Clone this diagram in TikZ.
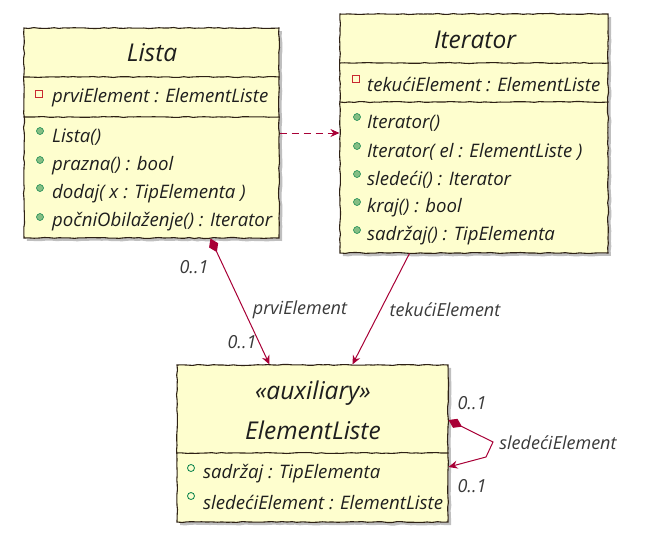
\documentclass[tikz,border=0pt]{standalone}
\usepackage{fontspec}
\setmainfont{Open Sans}
\usetikzlibrary{arrows.meta,calc,decorations.pathmorphing,shadows}
\definecolor{umlfill}{HTML}{FEFECE}
\definecolor{umlborder}{HTML}{2E2114}
\definecolor{umlarrow}{HTML}{A80036}
\definecolor{pubfill}{HTML}{84BE84}
\definecolor{publine}{HTML}{038048}
\definecolor{privline}{HTML}{C82930}
\definecolor{txt}{HTML}{1E1E1E}
\definecolor{lbl}{HTML}{3A3A3A}
\begin{document}
\pgfmathsetseed{7}
\begin{tikzpicture}[x=1pt,y=-1pt,
  wobble/.style={decorate,decoration={random steps,segment length=5pt,amplitude=0.5pt}},
  classbox/.style={draw=umlborder, fill=umlfill, line width=1.1pt, inner sep=0pt, wobble,
    drop shadow={shadow xshift=3pt, shadow yshift=-3pt, fill=black, opacity=0.25}},
  sepline/.style={draw=umlborder, line width=1.1pt, wobble},
  member/.style={anchor=west, inner sep=0pt, font=\fontsize{18.6}{20}\selectfont\itshape, text=txt},
  title/.style={inner sep=0pt, font=\fontsize{24.5}{27}\selectfont\itshape, text=txt},
  pubm/.style={circle, draw=publine, fill=pubfill, line width=0.5pt, minimum size=7pt, inner sep=0pt},
  pubf/.style={circle, draw=publine, fill=umlfill, line width=0.8pt, minimum size=7pt, inner sep=0pt},
  privf/.style={rectangle, draw=privline, line width=0.8pt, minimum size=6.5pt, inner sep=0pt},
  assoc/.style={draw=umlarrow, line width=1pt},
  lab/.style={inner sep=0pt, font=\fontsize{18}{20}\selectfont\itshape, text=lbl},
  tipA/.tip={Stealth[length=9pt,width=8pt,inset=3pt]},
  tipD/.tip={Diamond[length=15pt,width=10pt]}
]
\useasboundingbox (0,0) rectangle (657,539);

% ---------- Lista ----------
\node[classbox, minimum width=255pt, minimum height=210pt] (lista) at (151.5,133) {};
\node[title] (listaT) at (152,53) {Lista};
\draw[sepline] (lista.west |- 0,77) -- (lista.east |- 0,77);
\draw[sepline] (lista.west |- 0,117) -- (lista.east |- 0,117);
\node[privf] (li0) at (39,94) {};
\node[member] (l0) at (52,98) {prviElement : ElementListe};
\node[pubm] (li1) at (40,131) {};
\node[member] (l1) at (52,137) {Lista()};
\node[pubm] (li2) at (40,160) {};
\node[member] (l2) at (52,166) {prazna() : bool};
\node[pubm] (li3) at (40,188) {};
\node[member] (l3) at (52,194) {dodaj( x : TipElementa )};
\node[pubm] (li4) at (40,217) {};
\node[member] (l4) at (52,222) {počniObilaženje() : Iterator};

% ---------- Iterator ----------
\node[classbox, minimum width=268pt, minimum height=239pt] (iter) at (474,133.5) {};
\node[title] (iterT) at (475,40) {Iterator};
\draw[sepline] (iter.west |- 0,63) -- (iter.east |- 0,63);
\draw[sepline] (iter.west |- 0,102) -- (iter.east |- 0,102);
\node[privf] (ii0) at (356,79) {};
\node[member] (i0) at (367,84) {tekućiElement : ElementListe};
\node[pubm] (ii1) at (357,117) {};
\node[member] (i1) at (367,123) {Iterator()};
\node[pubm] (ii2) at (357,146) {};
\node[member] (i2) at (367,152) {Iterator( el : ElementListe )};
\node[pubm] (ii3) at (357,174) {};
\node[member] (i3) at (367,180) {sledeći() : Iterator};
\node[pubm] (ii4) at (357,202) {};
\node[member] (i4) at (367,208) {kraj() : bool};
\node[pubm] (ii5) at (357,230) {};
\node[member] (i5) at (367,236) {sadržaj() : TipElementa};

% ---------- ElementListe ----------
\node[classbox, minimum width=271pt, minimum height=157pt] (el) at (312.5,443.5) {};
\node[title] (elS) at (313,393) {«auxiliary»};
\node[title] (elT) at (313,430) {ElementListe};
\draw[sepline] (el.west |- 0,453) -- (el.east |- 0,453);
\node[pubf] (ei1) at (191,468) {};
\node[member] (e1) at (203,474) {sadržaj : TipElementa};
\node[pubf] (ei2) at (191,496) {};
\node[member] (e2) at (203,502) {sledećiElement : ElementListe};

% ---------- connectors ----------
\coordinate (dy) at (0,133);
\draw[assoc, dashed, dash pattern=on 7pt off 5pt, -tipA] (lista.east |- dy) -- (iter.west |- dy);

\draw[assoc, tipD-tipA] ($(lista.south west)+(187,0)$) -- ($(el.north west)+(93,0)$);
\node[lab] (c1a) at (194,267) {0..1};
\node[lab] (c1n) at (300,310) {prviElement};
\node[lab] (c1b) at (242,342) {0..1};

\draw[assoc, -tipA] ($(iter.south west)+(70,0)$) -- ($(el.north west)+(176,0)$);
\node[lab] (c2n) at (445,310) {tekućiElement};

\coordinate (s1) at (493,442);
\coordinate (s2) at (486,457);
\draw[assoc, tipD-tipA] (el.east |- 0,420) -- (s1) -- (s2) -- (el.east |- 0,467);
\node[lab] (c3a) at (472,403) {0..1};
\node[lab] (c3n) at (558,443) {sledećiElement};
\node[lab] (c3b) at (472,486) {0..1};
\end{tikzpicture}
\end{document}
